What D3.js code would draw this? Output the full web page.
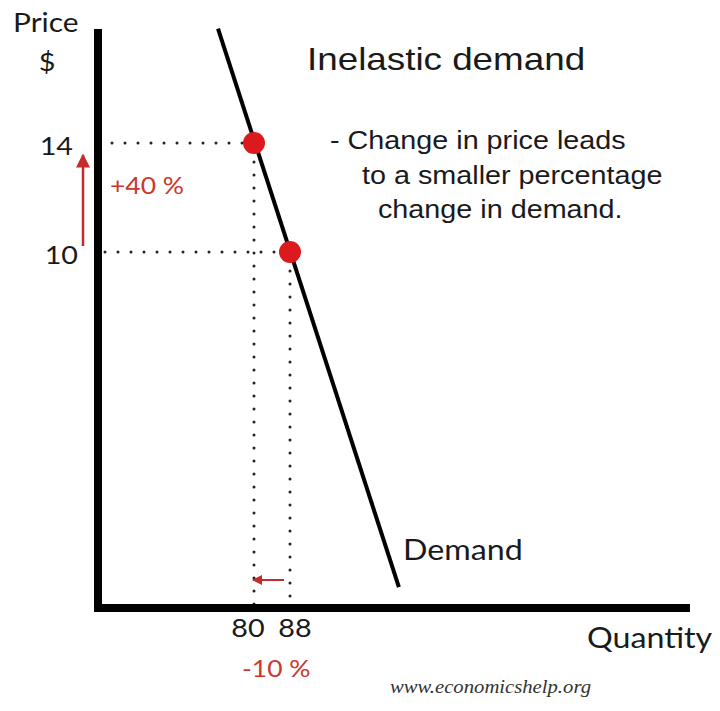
<!DOCTYPE html>
<html>
<head>
<meta charset="utf-8">
<title>Inelastic demand</title>
<style>
  body { margin: 0; background: #fff; }
  .lab { font-family: Lato, "Open Sans", sans-serif; fill: #1a1a1a; }
  .arial { font-family: "Liberation Sans", Arial, sans-serif; fill: #1a1a1a; }
  .red { font-family: Lato, sans-serif; fill: #c8392e; }
  .web { font-family: "Liberation Serif", serif; font-style: italic; fill: #333; }
  .dots { fill: none; stroke: #222; stroke-width: 3; stroke-dasharray: 0 13; stroke-linecap: round; }
</style>
</head>
<body>
<div id="chart"></div>
<script src="https://d3js.org/d3.v7.min.js"></script>
<script>
// values
var qtyTicks = [80, 88];
var priceTicks = [10, 14];
var pointQty = [80, 88];
var pointPrice = [14, 10];
var demandQty = [72, 112.2];
var demandPrice = [18.2, -2.3];
var descLines = ["- Change in price leads", "to a smaller percentage", "change in demand."];

var width = 720, height = 711;
var originX = 98, originY = 608, axisTop = 29, axisRight = 690;
var stretch = 1.15; // the picture is a bit wider than tall

var svg = d3.select("#chart").append("svg")
    .attr("width", width)
    .attr("height", height);

// scales defined by the two marked points, extrapolated for the rest
var x = d3.scaleLinear().domain(qtyTicks).range([254, 290]);
var y = d3.scaleLinear().domain(priceTicks).range([252, 143]);

var defs = svg.append("defs");
defs.append("marker").attr("id", "headBig")
    .attr("viewBox", "0 0 10 10").attr("refX", 9).attr("refY", 5)
    .attr("markerUnits", "userSpaceOnUse")
    .attr("markerWidth", 18).attr("markerHeight", 14).attr("orient", "auto")
  .append("path").attr("d", "M0,0 L10,5 L0,10 z").attr("fill", "#c62b2b");
defs.append("marker").attr("id", "headSmall")
    .attr("viewBox", "0 0 10 10").attr("refX", 9).attr("refY", 5)
    .attr("markerUnits", "userSpaceOnUse")
    .attr("markerWidth", 12).attr("markerHeight", 10).attr("orient", "auto")
  .append("path").attr("d", "M0,0 L10,5 L0,10 z").attr("fill", "#c62b2b");

function label(txt, px, py, cls, size, anchor) {
  return svg.append("text")
    .attr("class", cls)
    .attr("transform", "translate(" + px + "," + py + ") scale(" + stretch + ",1)")
    .attr("text-anchor", anchor || "start")
    .style("font-size", size + "px")
    .text(txt);
}

// dotted guide lines
var pts = pointQty.map(function(q, i) { return {q: q, p: pointPrice[i]}; });
var hStart = [112, 105];
svg.selectAll("path.h").data(pts).enter().append("path")
    .attr("class", "dots")
    .attr("d", function(d, i) { return "M" + hStart[i] + "," + y(d.p) + "H" + x(d.q); });
svg.selectAll("path.v").data(pts).enter().append("path")
    .attr("class", "dots")
    .attr("d", function(d) { return "M" + x(d.q) + "," + (y(d.p) + 6) + "V" + (originY - 3); });

// demand curve
var line = d3.line().x(function(d) { return x(d[0]); }).y(function(d) { return y(d[1]); });
svg.append("path")
    .datum(d3.zip(demandQty, demandPrice))
    .attr("d", line)
    .attr("fill", "none")
    .attr("stroke", "#000")
    .attr("stroke-width", 4);

// axes
svg.append("line").attr("x1", originX).attr("x2", originX)
    .attr("y1", axisTop).attr("y2", originY + 4)
    .attr("stroke", "#000").attr("stroke-width", 8);
svg.append("line").attr("x1", originX - 4).attr("x2", axisRight)
    .attr("y1", originY).attr("y2", originY)
    .attr("stroke", "#000").attr("stroke-width", 8);

// red points
svg.selectAll("circle.pt").data(pts).enter().append("circle")
    .attr("cx", function(d) { return x(d.q); })
    .attr("cy", function(d) { return y(d.p); })
    .attr("r", 11)
    .attr("fill", "#dc1a1e");

// tick labels
priceTicks.forEach(function(p, i) {
  label(p, i ? 73 : 78, y(p) + 12, "lab", 25, "end");
});
qtyTicks.forEach(function(q, i) {
  label(q, x(q) + (i ? 5 : -6), originY + 29, "lab", 25, "middle");
});

// axis titles
label("Price", 13, 32, "lab", 26);
label("$", 47, 71, "lab", 25, "middle");
label("Quantity", 587, 648, "lab", 28);
label("Demand", 403, 560, "lab", 28);

// change arrows
svg.append("line")
    .attr("x1", 83).attr("x2", 83)
    .attr("y1", y(pointPrice[1]) - 6).attr("y2", y(pointPrice[0]) + 12)
    .attr("stroke", "#c62b2b").attr("stroke-width", 2.5)
    .attr("marker-end", "url(#headBig)");
svg.append("line")
    .attr("x1", x(pointQty[1]) - 6).attr("x2", x(pointQty[0]) - 1)
    .attr("y1", 580).attr("y2", 580)
    .attr("stroke", "#c62b2b").attr("stroke-width", 2)
    .attr("marker-end", "url(#headSmall)");
label("+40 %", 110, 194, "red", 23);
label("-10 %", 242, 677, "red", 23);

// heading and note
label("Inelastic demand", 307, 70, "arial", 32);
var descX = [330, 362, 378];
descLines.forEach(function(t, i) {
  label(t, descX[i], 149 + i * 34.5, "arial", 25);
});

label("www.economicshelp.org", 390, 693, "web", 18);
</script>
</body>
</html>
